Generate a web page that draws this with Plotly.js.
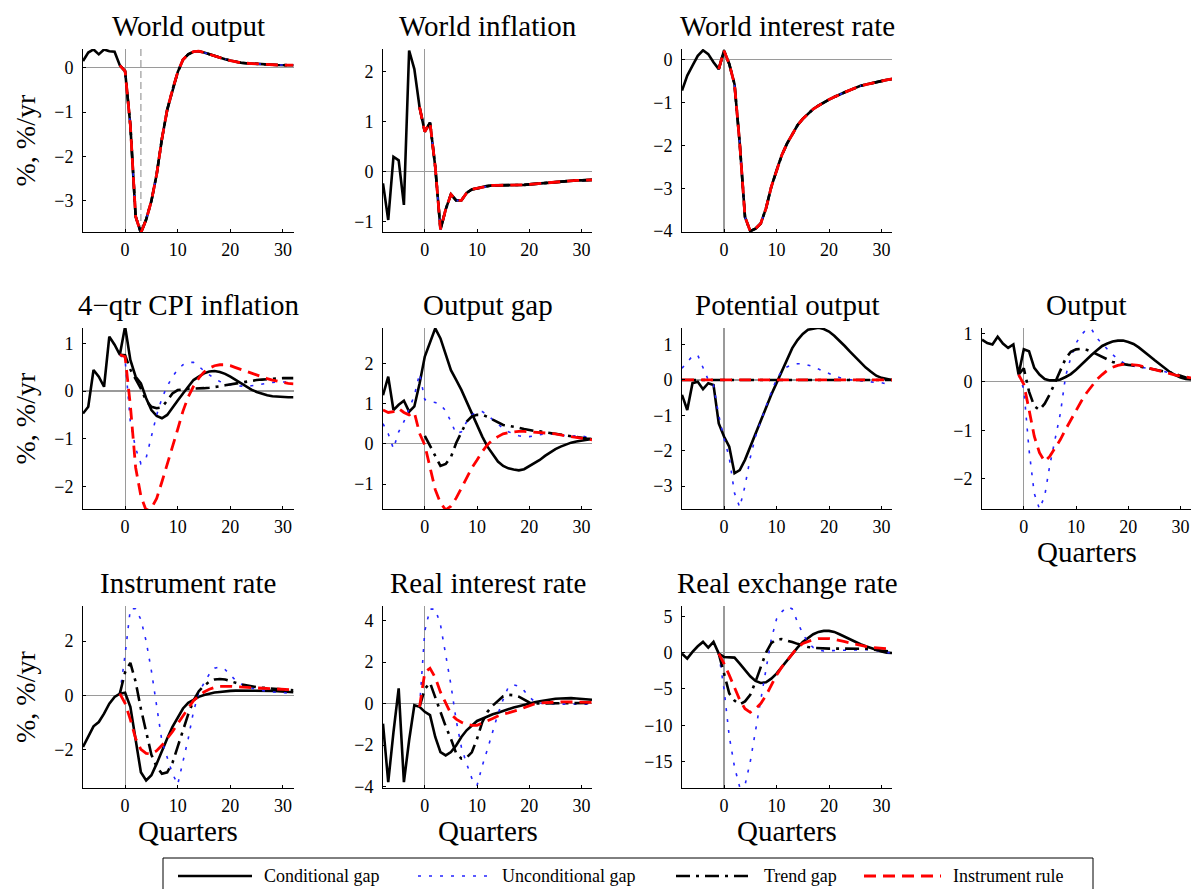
<!DOCTYPE html>
<html>
<head>
<meta charset="utf-8">
<script src="https://cdn.plot.ly/plotly-3.0.1.min.js"></script>
<style>html,body{margin:0;padding:0;background:#fff;}#chart{width:1192px;height:889px;}</style>
</head>
<body>
<div id="chart"></div>
<script>
// ---------- DATA ----------
const quarters = [-8,-7,-6,-5,-4,-3,-2,-1,0,1,2,3,4,5,6,7,8,9,10,11,12,13,14,15,16,17,18,19,20,21,22,23,24,25,26,27,28,29,30,31,32];

const seriesNames = ['Conditional gap','Unconditional gap','Trend gap','Instrument rule'];
const panelTitles = ['World output','World inflation','World interest rate','4\u2212qtr CPI inflation','Output gap','Potential output','Output','Instrument rate','Real interest rate','Real exchange rate'];
const xTickLabels = [0,10,20,30];
const worldOutputMarkerQuarter = 3;

// World output
const woCond = [0.15,0.34,0.41,0.30,0.41,0.37,0.36,0.05,-0.08,-1.3,-3.35,-3.72,-3.42,-3.0,-2.4,-1.6,-0.95,-0.5,-0.1,0.18,0.30,0.36,0.37,0.34,0.30,0.26,0.22,0.19,0.16,0.13,0.11,0.10,0.09,0.08,0.075,0.07,0.065,0.06,0.06,0.055,0.055];
const woProj = [null,null,null,null,null,null,null,0.05,-0.08,-1.3,-3.35,-3.72,-3.42,-3.0,-2.4,-1.6,-0.95,-0.5,-0.1,0.18,0.30,0.36,0.37,0.34,0.30,0.26,0.22,0.19,0.16,0.13,0.11,0.10,0.09,0.08,0.075,0.07,0.065,0.06,0.06,0.055,0.055];
// World inflation
const wiCond = [-0.23,-0.96,0.30,0.23,-0.66,2.42,2.05,1.29,0.8,0.98,0.1,-1.15,-0.75,-0.45,-0.57,-0.57,-0.42,-0.35,-0.33,-0.3,-0.28,-0.27,-0.27,-0.27,-0.27,-0.27,-0.26,-0.26,-0.25,-0.24,-0.23,-0.22,-0.22,-0.21,-0.2,-0.19,-0.18,-0.17,-0.17,-0.16,-0.16];
const wiProj = [null,null,null,null,null,null,null,1.29,0.8,0.98,0.1,-1.15,-0.75,-0.45,-0.57,-0.57,-0.42,-0.35,-0.33,-0.3,-0.28,-0.27,-0.27,-0.27,-0.27,-0.27,-0.26,-0.26,-0.25,-0.24,-0.23,-0.22,-0.22,-0.21,-0.2,-0.19,-0.18,-0.17,-0.17,-0.16,-0.16];
// World interest rate
const wrCond = [-0.72,-0.37,-0.14,0.09,0.22,0.13,-0.06,-0.22,0.21,-0.1,-0.57,-1.96,-3.67,-4.0,-3.94,-3.82,-3.47,-2.97,-2.58,-2.23,-1.96,-1.73,-1.53,-1.38,-1.26,-1.15,-1.07,-0.99,-0.93,-0.87,-0.81,-0.76,-0.71,-0.66,-0.61,-0.58,-0.55,-0.52,-0.49,-0.47,-0.45];
const wrProj = [null,null,null,null,null,null,null,-0.22,0.21,-0.1,-0.57,-1.96,-3.67,-4.0,-3.94,-3.82,-3.47,-2.97,-2.58,-2.23,-1.96,-1.73,-1.53,-1.38,-1.26,-1.15,-1.07,-0.99,-0.93,-0.87,-0.81,-0.76,-0.71,-0.66,-0.61,-0.58,-0.55,-0.52,-0.49,-0.47,-0.45];
// 4-qtr CPI inflation
const cpiCond = [-0.47,-0.33,0.44,0.30,0.09,1.14,0.97,0.76,1.35,0.65,0.30,0.16,-0.15,-0.40,-0.52,-0.57,-0.50,-0.36,-0.2,-0.05,0.09,0.23,0.30,0.37,0.41,0.42,0.40,0.36,0.30,0.23,0.16,0.09,0.03,-0.02,-0.06,-0.09,-0.11,-0.12,-0.13,-0.13,-0.13];
const cpiUncond = [null,null,null,null,null,null,null,0.76,0.65,-0.65,-1.2,-1.52,-1.4,-0.95,-0.5,-0.15,0.1,0.3,0.45,0.55,0.6,0.6,0.52,0.42,0.33,0.26,0.2,0.16,0.13,0.11,0.1,0.1,0.11,0.13,0.15,0.17,0.18,0.19,0.19,0.19,0.19];
const cpiTrend = [null,null,null,null,null,null,null,0.76,0.75,0.45,0.25,0.05,-0.2,-0.33,-0.36,-0.34,-0.2,-0.05,0.02,0.04,0.05,0.05,0.05,0.06,0.07,0.08,0.1,0.12,0.14,0.16,0.18,0.2,0.22,0.23,0.24,0.25,0.26,0.26,0.27,0.27,0.27];
const cpiInstr = [null,null,null,null,null,null,null,0.76,0.72,-0.3,-1.6,-2.2,-2.5,-2.45,-2.25,-1.9,-1.55,-1.15,-0.8,-0.42,-0.12,0.1,0.27,0.4,0.48,0.53,0.55,0.55,0.53,0.49,0.45,0.41,0.37,0.33,0.29,0.26,0.23,0.2,0.18,0.16,0.15];
// Output gap
const ogCond = [1.21,1.67,0.84,0.97,1.07,0.8,0.93,1.5,2.17,2.5,2.87,2.62,2.25,1.83,1.59,1.34,1.05,0.76,0.43,0.18,-0.07,-0.27,-0.44,-0.55,-0.61,-0.64,-0.66,-0.63,-0.56,-0.48,-0.4,-0.3,-0.21,-0.13,-0.07,-0.02,0.03,0.06,0.08,0.1,0.12];
const ogUncond = [0.5,0.25,-0.12,0.3,0.55,0.9,1.2,1.75,1.1,1.05,1.03,0.98,0.82,0.55,0.25,0.3,0.55,0.72,0.8,0.8,0.72,0.6,0.48,0.38,0.3,0.24,0.2,0.18,0.18,0.2,0.23,0.25,0.25,0.24,0.22,0.2,0.19,0.2,0.2,0.17,0.12];
const ogTrend = [null,null,null,null,null,null,null,null,0.2,-0.05,-0.3,-0.55,-0.5,-0.33,0.02,0.3,0.55,0.68,0.72,0.72,0.67,0.6,0.53,0.47,0.45,0.43,0.4,0.37,0.34,0.32,0.31,0.29,0.27,0.25,0.22,0.2,0.18,0.16,0.14,0.13,0.12];
const ogInstr = [0.84,0.78,0.8,0.88,0.78,0.72,0.78,0.26,-0.03,-0.56,-1.14,-1.47,-1.64,-1.55,-1.35,-1.1,-0.85,-0.6,-0.4,-0.19,-0.02,0.1,0.18,0.25,0.28,0.3,0.31,0.31,0.3,0.3,0.29,0.28,0.26,0.25,0.22,0.2,0.18,0.16,0.14,0.12,0.1];
// Potential output
const poCond = [-0.42,-0.85,-0.09,-0.05,-0.26,-0.09,-0.14,-1.23,-1.6,-1.89,-2.64,-2.55,-2.26,-1.89,-1.51,-1.13,-0.8,-0.42,-0.09,0.24,0.57,0.9,1.13,1.3,1.42,1.46,1.48,1.44,1.37,1.25,1.11,0.96,0.8,0.64,0.49,0.35,0.23,0.12,0.06,0.02,0.0];
const poUncond = [0.33,0.5,0.68,0.7,0.35,0.0,-0.15,-1.0,-1.65,-2.2,-3.2,-3.6,-3.0,-2.2,-1.6,-1.15,-0.75,-0.35,0.02,0.25,0.37,0.43,0.46,0.46,0.43,0.38,0.31,0.24,0.18,0.12,0.07,0.03,0.01,-0.01,-0.03,-0.05,-0.06,-0.07,-0.08,-0.1,-0.14];
const poTrend = [0,0,0,0,0,0,0,0,0,0,0,0,0,0,0,0,0,0,0,0,0,0,0,0,0,0,0,0,0,0,0,0,0,0,0,0,0,0,0,0,0];
const poInstr = [0,0,0,0,0,0,0,0,0,0,0,0,0,0,0,0,0,0,0,0,0,0,0,0,0,0,0,0,0,0,0,0,0,0,0,0,0,0,0,0,0];
// Output
const outCond = [0.87,0.8,0.77,0.93,0.79,0.7,0.77,0.15,0.67,0.63,0.29,0.15,0.06,0.03,0.03,0.05,0.1,0.16,0.25,0.36,0.46,0.56,0.65,0.74,0.79,0.83,0.85,0.85,0.82,0.78,0.71,0.63,0.54,0.45,0.36,0.27,0.2,0.14,0.09,0.06,0.05];
const outUncond = [null,null,null,null,null,null,null,0.15,-0.15,-1.4,-2.3,-2.62,-2.35,-1.7,-1.2,-0.65,0.12,0.5,0.8,0.97,1.08,1.08,0.9,0.78,0.67,0.56,0.47,0.4,0.35,0.32,0.3,0.29,0.28,0.26,0.24,0.21,0.17,0.14,0.11,0.08,0.06];
const outTrend = [null,null,null,null,null,null,null,0.15,0.28,-0.2,-0.5,-0.58,-0.45,-0.25,0.0,0.25,0.48,0.62,0.67,0.68,0.66,0.62,0.57,0.52,0.46,0.41,0.38,0.36,0.35,0.34,0.32,0.3,0.28,0.26,0.24,0.22,0.19,0.16,0.12,0.09,0.06];
const outInstr = [null,null,null,null,null,null,null,0.15,-0.05,-0.57,-1.12,-1.46,-1.64,-1.53,-1.36,-1.19,-0.98,-0.78,-0.57,-0.4,-0.23,-0.09,0.05,0.15,0.24,0.3,0.34,0.36,0.36,0.35,0.34,0.31,0.28,0.25,0.23,0.2,0.17,0.14,0.12,0.1,0.08];
// Instrument rate
const irCond = [-1.91,-1.54,-1.15,-0.99,-0.68,-0.31,-0.06,0.06,0.09,-0.43,-1.7,-2.85,-3.15,-2.96,-2.53,-2.04,-1.6,-1.17,-0.8,-0.49,-0.28,-0.16,-0.06,0.01,0.06,0.1,0.12,0.15,0.16,0.17,0.17,0.18,0.18,0.18,0.17,0.17,0.16,0.15,0.14,0.12,0.11];
const irUncond = [null,null,null,null,null,null,null,0.06,1.5,3.2,3.2,2.8,2.0,0.9,-0.5,-1.7,-2.3,-2.9,-3.3,-2.5,-1.6,-0.6,0.1,0.45,0.78,1.0,1.05,0.95,0.75,0.55,0.42,0.33,0.27,0.22,0.17,0.14,0.12,0.1,0.09,0.08,0.07];
const irTrend = [null,null,null,null,null,null,null,0.06,0.85,1.2,0.5,-0.5,-1.4,-2.2,-2.65,-2.9,-2.85,-2.5,-1.9,-1.3,-0.7,-0.2,0.15,0.35,0.5,0.58,0.6,0.58,0.53,0.46,0.4,0.36,0.32,0.3,0.28,0.26,0.24,0.22,0.2,0.19,0.18];
const irInstr = [null,null,null,null,null,null,null,0.06,-0.3,-0.9,-1.6,-2.0,-2.15,-2.17,-2.05,-1.85,-1.62,-1.35,-1.05,-0.75,-0.45,-0.2,-0.02,0.12,0.22,0.29,0.33,0.34,0.33,0.32,0.3,0.29,0.28,0.27,0.26,0.25,0.24,0.23,0.22,0.21,0.2];
// Real interest rate
const rrCond = [-0.97,-3.79,-1.39,0.73,-3.79,-1.77,-0.08,-0.16,-0.4,-0.56,-1.61,-2.34,-2.5,-2.34,-2.02,-1.61,-1.29,-1.05,-0.84,-0.73,-0.61,-0.52,-0.44,-0.35,-0.27,-0.19,-0.13,-0.06,0.0,0.06,0.11,0.16,0.19,0.23,0.24,0.26,0.26,0.24,0.23,0.21,0.18];
const rrUncond = [null,null,null,null,null,null,null,-0.16,3.5,4.55,4.55,3.8,2.4,0.9,-0.8,-2.1,-2.9,-3.6,-3.95,-3.0,-2.2,-1.3,-0.5,0.2,0.8,0.9,0.84,0.62,0.32,0.1,0.02,0.0,-0.02,-0.03,-0.03,-0.03,-0.03,-0.03,-0.03,-0.03,-0.03];
const rrTrend = [null,null,null,null,null,null,null,-0.16,0.7,1.0,0.3,-0.5,-1.1,-1.7,-2.4,-2.65,-2.6,-2.35,-1.7,-0.9,-0.4,-0.1,0.15,0.35,0.42,0.4,0.33,0.18,0.05,0.0,0.0,0.01,0.02,0.03,0.03,0.03,0.03,0.03,0.03,0.03,0.03];
const rrInstr = [null,null,null,null,null,null,null,-0.16,1.5,1.7,1.25,0.55,0.0,-0.5,-0.75,-0.9,-1.0,-1.05,-1.05,-0.95,-0.85,-0.72,-0.6,-0.5,-0.45,-0.38,-0.3,-0.2,-0.1,-0.02,0.03,0.05,0.07,0.08,0.08,0.08,0.08,0.08,0.07,0.07,0.06];
// Real exchange rate
const rxCond = [-0.14,-0.83,0.09,0.87,1.47,0.69,1.47,-0.14,-0.6,-0.6,-0.69,-1.51,-2.43,-3.26,-3.9,-4.17,-4.08,-3.58,-2.89,-1.97,-1.06,-0.14,0.69,1.47,2.06,2.52,2.84,2.98,2.98,2.84,2.52,2.16,1.79,1.47,1.15,0.87,0.6,0.32,0.14,0.0,-0.05];
const rxUncond = [null,null,null,null,null,null,null,-0.14,-5.0,-11.5,-15.7,-18.5,-18.2,-15.0,-11.0,-6.5,-2.3,1.8,4.6,5.6,6.3,6.0,4.2,2.6,1.4,0.7,0.35,0.22,0.25,0.3,0.32,0.33,0.35,0.37,0.4,0.42,0.4,0.3,0.15,0.05,-0.1];
const rxTrend = [null,null,null,null,null,null,null,-0.14,-3.0,-5.6,-6.6,-7.1,-6.7,-5.8,-4.0,-2.0,0.0,1.3,1.8,1.85,1.7,1.45,1.2,0.95,0.78,0.65,0.58,0.55,0.54,0.55,0.56,0.57,0.58,0.58,0.56,0.52,0.45,0.37,0.28,0.2,0.12];
const rxInstr = [null,null,null,null,null,null,null,-0.14,-1.5,-3.1,-4.7,-6.5,-7.7,-8.2,-7.7,-7.0,-5.9,-4.5,-3.1,-2.0,-1.06,-0.14,0.7,1.24,1.56,1.79,1.93,1.97,1.93,1.83,1.7,1.5,1.33,1.15,1.0,0.87,0.73,0.64,0.55,0.5,0.46];

// ---------- LAYOUT HELPERS ----------
const W = 1192, H = 889;
const px = v => v / W;
const py = v => 1 - v / H;
const colPx = [[83,293.5],[383,592],[682,892],[982,1191]];
const rowPx = [[49,232],[328,509],[606,788]];
const serif = 'Liberation Serif';

const panelSeries = [
  [woCond, woProj, woProj, woProj],
  [wiCond, wiProj, wiProj, wiProj],
  [wrCond, wrProj, wrProj, wrProj],
  [cpiCond, cpiUncond, cpiTrend, cpiInstr],
  [ogCond, ogUncond, ogTrend, ogInstr],
  [poCond, poUncond, poTrend, poInstr],
  [outCond, outUncond, outTrend, outInstr],
  [irCond, irUncond, irTrend, irInstr],
  [rrCond, rrUncond, rrTrend, rrInstr],
  [rxCond, rxUncond, rxTrend, rxInstr]
];
const panelPos = [[0,0],[0,1],[0,2],[1,0],[1,1],[1,2],[1,3],[2,0],[2,1],[2,2]];
const panelRange = [[-3.7,0.42],[-1.2,2.45],[-4.02,0.25],[-2.47,1.32],[-1.62,2.88],[-3.65,1.47],[-2.62,1.11],[-3.43,3.3],[-4.07,4.7],[-18.6,6.4]];
const panelDtick = [1,1,1,1,1,1,1,2,2,5];

const styles = [
  {color:'#000000', width:2.6, dash:'solid'},
  {color:'#2424ff', width:1.6, dash:'3px,8px'},
  {color:'#000000', width:2.6, dash:'14px,6px,3px,6px'},
  {color:'#ff0000', width:2.8, dash:'12px,7px'}
];

const traces = [];
const layout = {
  width: W, height: H,
  margin: {l:0, r:0, t:0, b:0},
  paper_bgcolor: '#ffffff', plot_bgcolor: '#ffffff',
  showlegend: false,
  font: {family: serif, color: '#000'},
  annotations: [], shapes: []
};

panelSeries.forEach((ser, i) => {
  const k = i + 1;
  const sfx = k === 1 ? '' : String(k);
  const [r, c] = panelPos[i];
  ser.forEach((yv, s) => {
    traces.push({
      x: quarters, y: yv, name: seriesNames[s],
      xaxis: 'x' + sfx, yaxis: 'y' + sfx,
      type: 'scatter', mode: 'lines', connectgaps: false, hoverinfo: 'skip',
      line: {color: styles[s].color, width: styles[s].width, dash: styles[s].dash}
    });
  });
  const common = {
    showline: true, linecolor: '#000', linewidth: 1,
    ticks: 'inside', ticklen: 3, tickcolor: '#000', tickwidth: 1,
    showgrid: false, zeroline: true, zerolinecolor: '#9a9a9a', zerolinewidth: 1.2,
    tickfont: {family: serif, size: 18, color: '#000'}, fixedrange: true
  };
  layout['xaxis' + sfx] = Object.assign({}, common, {
    domain: [px(colPx[c][0]), px(colPx[c][1])], anchor: 'y' + sfx,
    range: [quarters[0], quarters[quarters.length-1]],
    tickmode: 'array', tickvals: xTickLabels, ticktext: xTickLabels.map(String),
    ticklabelstandoff: 1
  });
  layout['yaxis' + sfx] = Object.assign({}, common, {
    domain: [py(rowPx[r][1]), py(rowPx[r][0])], anchor: 'x' + sfx,
    range: panelRange[i], tick0: 0, dtick: panelDtick[i],
    ticklabelstandoff: 5
  });
  // panel title
  layout.annotations.push({
    text: panelTitles[i], xref: 'paper', yref: 'paper',
    x: px((colPx[c][0] + colPx[c][1]) / 2), y: py(rowPx[r][0] - 23),
    xanchor: 'center', yanchor: 'middle', showarrow: false,
    font: {family: serif, size: 29, color: '#000'}
  });
  // "Quarters" under bottom panels
  if (r === 2 || (r === 1 && c === 3)) {
    layout.annotations.push({
      text: 'Quarters', xref: 'paper', yref: 'paper',
      x: px((colPx[c][0] + colPx[c][1]) / 2), y: py(rowPx[r][1] + 43),
      xanchor: 'center', yanchor: 'middle', showarrow: false,
      font: {family: serif, size: 29, color: '#000'}
    });
  }
  if (c === 0) {
    layout.annotations.push({
      text: '%, %/yr', xref: 'paper', yref: 'paper', textangle: -90,
      x: px(25), y: py((rowPx[r][0] + rowPx[r][1]) / 2),
      xanchor: 'center', yanchor: 'middle', showarrow: false,
      font: {family: serif, size: 28, color: '#000'}
    });
  }
});

// dashed marker line in World output panel
layout.shapes.push({
  type: 'line', xref: 'x', yref: 'y domain', layer: 'below',
  x0: worldOutputMarkerQuarter, x1: worldOutputMarkerQuarter, y0: 0, y1: 1,
  line: {color: '#9a9a9a', width: 1.2, dash: '7px,4px'}
});

// ---------- LEGEND (box at the bottom) ----------
layout.shapes.push({
  type: 'rect', xref: 'paper', yref: 'paper',
  x0: px(163), x1: px(1093), y0: py(900), y1: py(858),
  line: {color: '#000', width: 1}, fillcolor: 'rgba(0,0,0,0)'
});
const legendSample = [[178,252],[418,488],[676,752],[864,941]];
const legendText = [262, 500, 762, 951];
const legendY = 876;
seriesNames.forEach((nm, s) => {
  layout.shapes.push({
    type: 'line', xref: 'paper', yref: 'paper',
    x0: px(legendSample[s][0]), x1: px(legendSample[s][1]), y0: py(legendY), y1: py(legendY),
    line: {color: styles[s].color, width: styles[s].width, dash: styles[s].dash}
  });
  layout.annotations.push({
    text: nm, xref: 'paper', yref: 'paper',
    x: px(legendText[s]), y: py(legendY), xanchor: 'left', yanchor: 'middle', showarrow: false,
    font: {family: serif, size: 18, color: '#000'}
  });
});

Plotly.newPlot('chart', traces, layout, {staticPlot: true, displayModeBar: false});
</script>
</body>
</html>
